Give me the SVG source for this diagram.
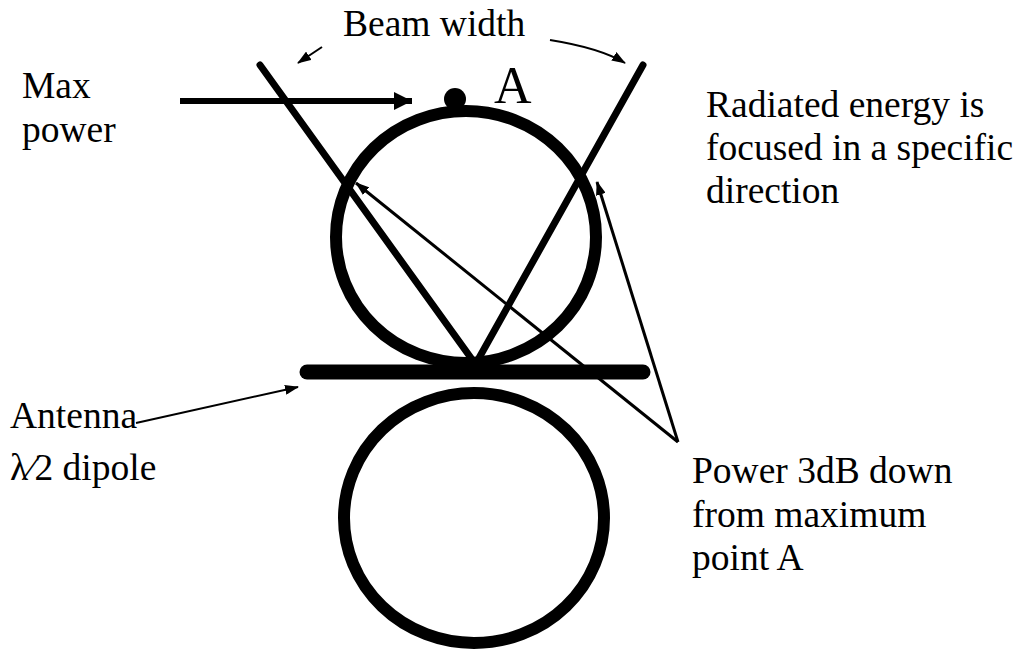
<svg xmlns="http://www.w3.org/2000/svg" width="1018" height="652" viewBox="0 0 1018 652">
<style>
text{font-family:'Liberation Serif',serif;font-size:37.5px;fill:#000}
.ring{fill:none;stroke:#000;stroke-width:12}
.beam{stroke:#000;stroke-width:7;stroke-linecap:round;fill:none}
.thin{stroke:#000;stroke-width:3;fill:none}
.hair{stroke:#000;stroke-width:2;fill:none}
</style>
<defs>
<marker id="ah" markerUnits="userSpaceOnUse" markerWidth="14" markerHeight="10" refX="13" refY="5" orient="auto"><path d="M0,0 L14,5 L0,10 z" fill="#000"/></marker>
<marker id="ahb" markerUnits="userSpaceOnUse" markerWidth="18" markerHeight="18" refX="18" refY="9" orient="auto"><path d="M0,0 L18,9 L0,18 z" fill="#000"/></marker>
</defs>
<g id="upper-lobe"><ellipse class="ring" cx="466" cy="237" rx="130" ry="126"/></g>
<g id="lower-lobe"><ellipse class="ring" cx="474" cy="518" rx="130" ry="125"/></g>
<g id="dipole"><line x1="307" y1="372" x2="643" y2="372" stroke="#000" stroke-width="15" stroke-linecap="round"/></g>
<g id="beam-lines">
<line class="beam" x1="260" y1="65" x2="471" y2="358"/>
<line class="beam" x1="643" y1="65" x2="479" y2="358"/>
</g>
<g id="point-A"><circle cx="455" cy="99" r="11" fill="#000"/><text x="494" y="103" style="font-size:52px">A</text></g>
<g id="connectors">
<line x1="180" y1="101" x2="412" y2="101" stroke="#000" stroke-width="6" marker-end="url(#ahb)"/>
<line class="hair" x1="322" y1="47" x2="298" y2="63" marker-end="url(#ah)"/>
<path class="hair" d="M550,40 Q600,48 625,63" marker-end="url(#ah)"/>
<line class="hair" x1="136" y1="423" x2="298" y2="387" marker-end="url(#ah)"/>
<line class="thin" x1="678" y1="442" x2="356" y2="183" marker-end="url(#ah)"/>
<line class="thin" x1="678" y1="442" x2="597" y2="182" marker-end="url(#ah)"/>
</g>
<g id="labels">
<text x="343" y="36">Beam width</text>
<text x="22" y="98">Max</text>
<text x="22" y="142">power</text>
<text x="706" y="117">Radiated energy is</text>
<text x="706" y="160">focused in a specific</text>
<text x="706" y="203">direction</text>
<text x="10" y="428">Antenna</text>
<text x="10" y="480">λ⁄2 dipole</text>
<text x="692" y="483">Power 3dB down</text>
<text x="692" y="527">from maximum</text>
<text x="692" y="570">point A</text>
</g>
</svg>
